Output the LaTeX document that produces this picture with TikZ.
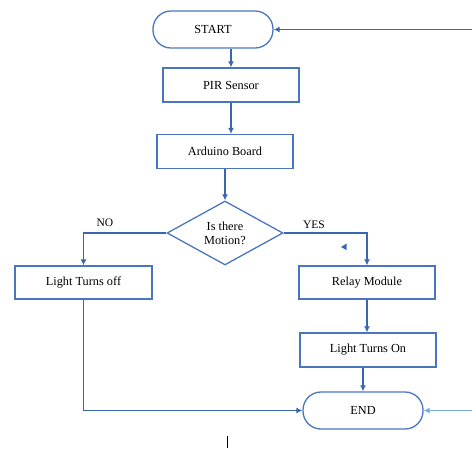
\documentclass[tikz,border=0pt]{standalone}
\usepackage{fontspec}
\setmainfont{Liberation Serif}
\usetikzlibrary{shapes.geometric,arrows.meta}
\definecolor{boxblue}{HTML}{4A76C0}
\definecolor{lineblue}{HTML}{3A66B0}
\definecolor{paleblue}{HTML}{7AAAE0}
\begin{document}
\begin{tikzpicture}[x=1pt,y=-1pt,
  every node/.style={font=\fontsize{12.3}{14}\selectfont},
  term/.style={draw=boxblue,line width=1.3pt,rounded corners=18pt,minimum width=120pt,minimum height=37pt,inner sep=0pt},
  proc/.style={draw=boxblue,line width=1.3pt,minimum width=136pt,minimum height=34pt,inner sep=0pt},
  dec/.style={draw=boxblue,line width=1.3pt,diamond,aspect=1.81,minimum width=116pt,minimum height=64pt,inner sep=0pt,align=center},
  conn/.style={draw=lineblue,line width=1.3pt,-{Latex[length=6pt,width=6pt]}},
  lab/.style={font=\fontsize{11.5}{13}\selectfont}]
\useasboundingbox (0,0) rectangle (472,448);
\node[term] (start) at (213,29.5) {START};
\node[proc] (pir) at (231,85) {PIR Sensor};
\node[proc] (ard) at (225,151.5) {Arduino Board};
\node[dec] (motion) at (225,233) {Is there\\Motion?};
\node[proc,minimum width=137pt,minimum height=33pt] (off) at (83.5,282.5) {Light Turns off};
\node[proc,minimum height=33pt] (relay) at (367,282.5) {Relay Module};
\node[proc] (on) at (368,350) {Light Turns On};
\node[term] (end) at (363,410.5) {END};
\coordinate (rin) at (472,29.5);
\coordinate (rin2) at (472,410.5);
\node[lab] (no) at (105,223) {NO};
\node[lab] (yes) at (314,225) {YES};
% connectors
\draw[conn] (rin) -- (start.east);
\draw[conn] (pir.north |- start.south) -- (pir.north);
\draw[conn] (pir.south) -- (pir.south |- ard.north);
\draw[conn] (ard.south) -- (motion.north);
\draw[conn] (motion.west) -- (motion.west -| off.north) -- (off.north);
\draw[conn] (motion.east) -- (motion.east -| relay.north) -- (relay.north);
\draw[conn] (relay.south) -- (relay.south |- on.north);
\draw[conn] (end.north |- on.south) -- (end.north);
\draw[conn] (off.south) |- (end.west);
\draw[conn,draw=paleblue] (rin2) -- (end.east);
% stray mark
\fill[lineblue] (341,247) -- (346.5,243.5) -- (346.5,250) -- cycle;
% cursor
\draw[black,line width=0.9pt] (227,436) -- (227,448);
\end{tikzpicture}
\end{document}
